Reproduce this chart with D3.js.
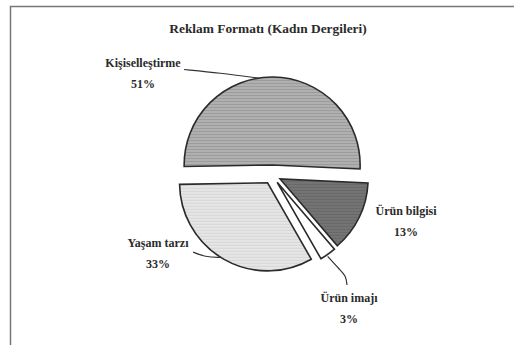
<!DOCTYPE html>
<html>
<head>
<meta charset="utf-8">
<style>
  body { margin: 0; background: #fff; }
  text { font-family: "Liberation Serif", "DejaVu Serif", serif; fill: #2a2a2a; }
</style>
</head>
<body>
<div id="container"></div>
<script src="https://cdn.jsdelivr.net/npm/d3@7"></script>
<script>

// chart data
const categories = ["Kişiselleştirme", "Ürün bilgisi", "Ürün imajı", "Yaşam tarzı"];
const values = [51, 13, 3, 33];
const title = "Reklam Formatı (Kadın Dergileri)";

const width = 514, height = 345;
const cx = 272, cy = 175, radius = 88;

const svg = d3.select("#container")
  .append("svg")
  .attr("width", width)
  .attr("height", height);

// frame (scanned page border)
svg.append("path")
  .attr("d", "M10.5,345 V6.5 H514")
  .attr("fill", "none")
  .attr("stroke", "#777")
  .attr("stroke-width", 1.5);

// hatch patterns like the printed textures
const defs = svg.append("defs");
function hatch(id, base, line) {
  const p = defs.append("pattern")
    .attr("id", id)
    .attr("patternUnits", "userSpaceOnUse")
    .attr("width", 4).attr("height", 3);
  p.append("rect").attr("width", 4).attr("height", 3).attr("fill", base);
  p.append("rect").attr("y", 2).attr("width", 4).attr("height", 1).attr("fill", line);
}
hatch("h0", "#b0b0b0", "#9c9c9c");
hatch("h1", "#747474", "#686868");
hatch("h3", "#e6e6e6", "#d6d6d6");

const fills = ["url(#h0)", "url(#h1)", "#ffffff", "url(#h3)"];
const explode = [10, 9, 9, 9];

const toRad = d => d * Math.PI / 180;
const pie = d3.pie().sort(null)
  .startAngle(toRad(-91))
  .endAngle(toRad(269));
const arcs = pie(values);
const arc = d3.arc().innerRadius(0).outerRadius(radius);

const g = svg.append("g").attr("transform", `translate(${cx},${cy})`);

function offset(d, i) {
  const a = (d.startAngle + d.endAngle) / 2;
  return [explode[i] * Math.sin(a), -explode[i] * Math.cos(a)];
}

g.selectAll("path.slice")
  .data(arcs)
  .join("path")
  .attr("class", "slice")
  .attr("transform", (d, i) => `translate(${offset(d, i)})`)
  .attr("d", arc)
  .attr("fill", (d, i) => fills[i])
  .attr("stroke", "#2a2a2a")
  .attr("stroke-width", 1.6)
  .attr("stroke-linejoin", "miter");

// point on the outer arc of slice i at angle (degrees)
function arcPoint(i, deg) {
  const o = offset(arcs[i], i);
  const a = toRad(deg);
  return [cx + o[0] + radius * Math.sin(a), cy + o[1] - radius * Math.cos(a)];
}

const line = d3.line().curve(d3.curveBasis);

// leader lines
const p0 = arcPoint(0, -9);
svg.append("path")
  .attr("d", line([[184, 69.5], [220, 73], p0]))
  .attr("fill", "none").attr("stroke", "#333").attr("stroke-width", 1.2);

const p3 = arcPoint(3, 212);
svg.append("path")
  .attr("d", line([[193, 252], [205, 257], p3]))
  .attr("fill", "none").attr("stroke", "#333").attr("stroke-width", 1.2);

const p2 = arcPoint(2, 145);
svg.append("path")
  .attr("d", line([[p2[0], p2[1] + 2], [340, 270], [346, 276], [347, 285]]))
  .attr("fill", "none").attr("stroke", "#333").attr("stroke-width", 1.2);

// title
svg.append("text")
  .attr("x", 268).attr("y", 33)
  .attr("text-anchor", "middle")
  .attr("font-size", 13.4)
  .attr("font-weight", "bold")
  .text(title);

// labels
const labelPos = [[143, 67], [406, 215], [349, 302], [158, 247]];
categories.forEach((c, i) => {
  const t = svg.append("text")
    .attr("x", labelPos[i][0]).attr("y", labelPos[i][1])
    .attr("text-anchor", "middle")
    .attr("font-size", 12)
    .attr("font-weight", "bold");
  t.append("tspan").attr("x", labelPos[i][0]).text(c);
  t.append("tspan").attr("x", labelPos[i][0]).attr("dy", 20.5).text(values[i] + "%");
});

</script>
</body>
</html>
